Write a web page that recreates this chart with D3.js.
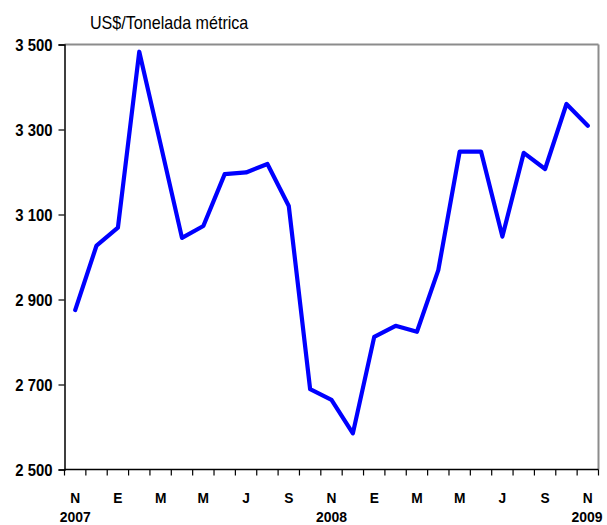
<!DOCTYPE html>
<html>
<head>
<meta charset="utf-8">
<script src="https://cdn.jsdelivr.net/npm/d3@7"></script>
<style>
  html, body { margin: 0; padding: 0; background: #fff; }
  svg { display: block; }
  text { font-family: "Liberation Sans", Arial, sans-serif; fill: #000; }
</style>
</head>
<body>
<svg id="chart" width="607" height="525"></svg>
<script>
// Monthly price, Nov 2007 – Nov 2009
const months = ["N","D","E","F","M","A","M","J","J","A","S","O",
                "N","D","E","F","M","A","M","J","J","A","S","O","N"];
const prices = [2875, 3027, 3069, 3483, 3265, 3045, 3073, 3195, 3199, 3219, 3120, 2689,
                2664, 2585, 2812, 2838, 2824, 2969, 3248, 3248, 3048, 3245, 3207, 3360, 3309];
const yTicks = [2500, 2700, 2900, 3100, 3300, 3500];
const years = [{ idx: 0, label: "2007" }, { idx: 12, label: "2008" }, { idx: 24, label: "2009" }];
const unitLabel = "US$/Tonelada métrica";

const svg = d3.select("#chart");
const plotLeft = 64.5, plotRight = 598.5, plotTop = 44.5, plotBottom = 469.5;

const x = d3.scaleBand().domain(d3.range(months.length)).range([plotLeft, plotRight]).paddingInner(0).paddingOuter(0);
const y = d3.scaleLinear().domain([2500, 3500]).range([plotBottom, plotTop]);
const cx = i => x(i) + x.bandwidth() / 2;

// condensed text: squeeze horizontally around the anchor point
function narrowText(sel, px, py, sx) {
  sel.attr("transform", `translate(${px},${py}) scale(${sx},1)`).attr("x", 0).attr("y", 0);
}

// frame: top and right edges in grey
svg.append("line").attr("x1", plotLeft).attr("x2", plotRight).attr("y1", plotTop).attr("y2", plotTop)
  .attr("stroke", "#8c8c8c").attr("stroke-width", 2);
svg.append("line").attr("x1", plotRight).attr("x2", plotRight).attr("y1", plotTop).attr("y2", plotBottom)
  .attr("stroke", "#8c8c8c").attr("stroke-width", 2);

// y axis
const yAxis = d3.axisLeft(y).tickValues(yTicks).tickSize(6).tickPadding(5)
  .tickFormat(d => d3.format(",")(d).replace(",", " "));
const gy = svg.append("g").attr("transform", `translate(${plotLeft},0)`).call(yAxis);
gy.select(".domain").attr("stroke", "#000").attr("stroke-width", 1.5);
gy.selectAll(".tick line").attr("stroke", "#000").attr("stroke-width", 1.2);
gy.selectAll(".tick text").style("font-size", "16px").style("font-weight", "bold")
  .attr("dy", "0.36em")
  .each(function () { narrowText(d3.select(this), -12, 0, 0.93); });

// x axis: ticks at month boundaries
const boundaries = d3.range(months.length + 1).map(i => plotLeft + i * x.bandwidth());
svg.append("line").attr("x1", plotLeft).attr("x2", plotRight).attr("y1", plotBottom).attr("y2", plotBottom)
  .attr("stroke", "#000").attr("stroke-width", 1.5);
svg.selectAll(".xtick").data(boundaries).join("line")
  .attr("class", "xtick")
  .attr("x1", d => d).attr("x2", d => d)
  .attr("y1", plotBottom).attr("y2", plotBottom + 6)
  .attr("stroke", "#000").attr("stroke-width", 1.2);

// month labels every second month
svg.selectAll(".mlabel").data(months.map((m, i) => ({ m, i })).filter(d => d.i % 2 === 0))
  .join("text")
  .attr("class", "mlabel")
  .attr("text-anchor", "middle")
  .style("font-size", "14.5px").style("font-weight", "bold")
  .text(d => d.m)
  .each(function (d) { narrowText(d3.select(this), cx(d.i), 503, 0.95); });

// year labels
svg.selectAll(".ylabel").data(years).join("text")
  .attr("class", "ylabel")
  .attr("text-anchor", "middle")
  .style("font-size", "15.5px").style("font-weight", "bold")
  .text(d => d.label)
  .each(function (d) { narrowText(d3.select(this), Math.min(cx(d.idx), 587), 521.5, 0.9); });

// unit label
svg.append("text")
  .style("font-size", "17.7px")
  .text(unitLabel)
  .call(narrowText, 90, 29, 0.91);

// price line
const line = d3.line().x((d, i) => cx(i)).y(d => y(d));
svg.append("path").datum(prices)
  .attr("d", line)
  .attr("fill", "none")
  .attr("stroke", "#0000ff")
  .attr("stroke-width", 4.2)
  .attr("stroke-linejoin", "round")
  .attr("stroke-linecap", "round");
</script>
</body>
</html>
